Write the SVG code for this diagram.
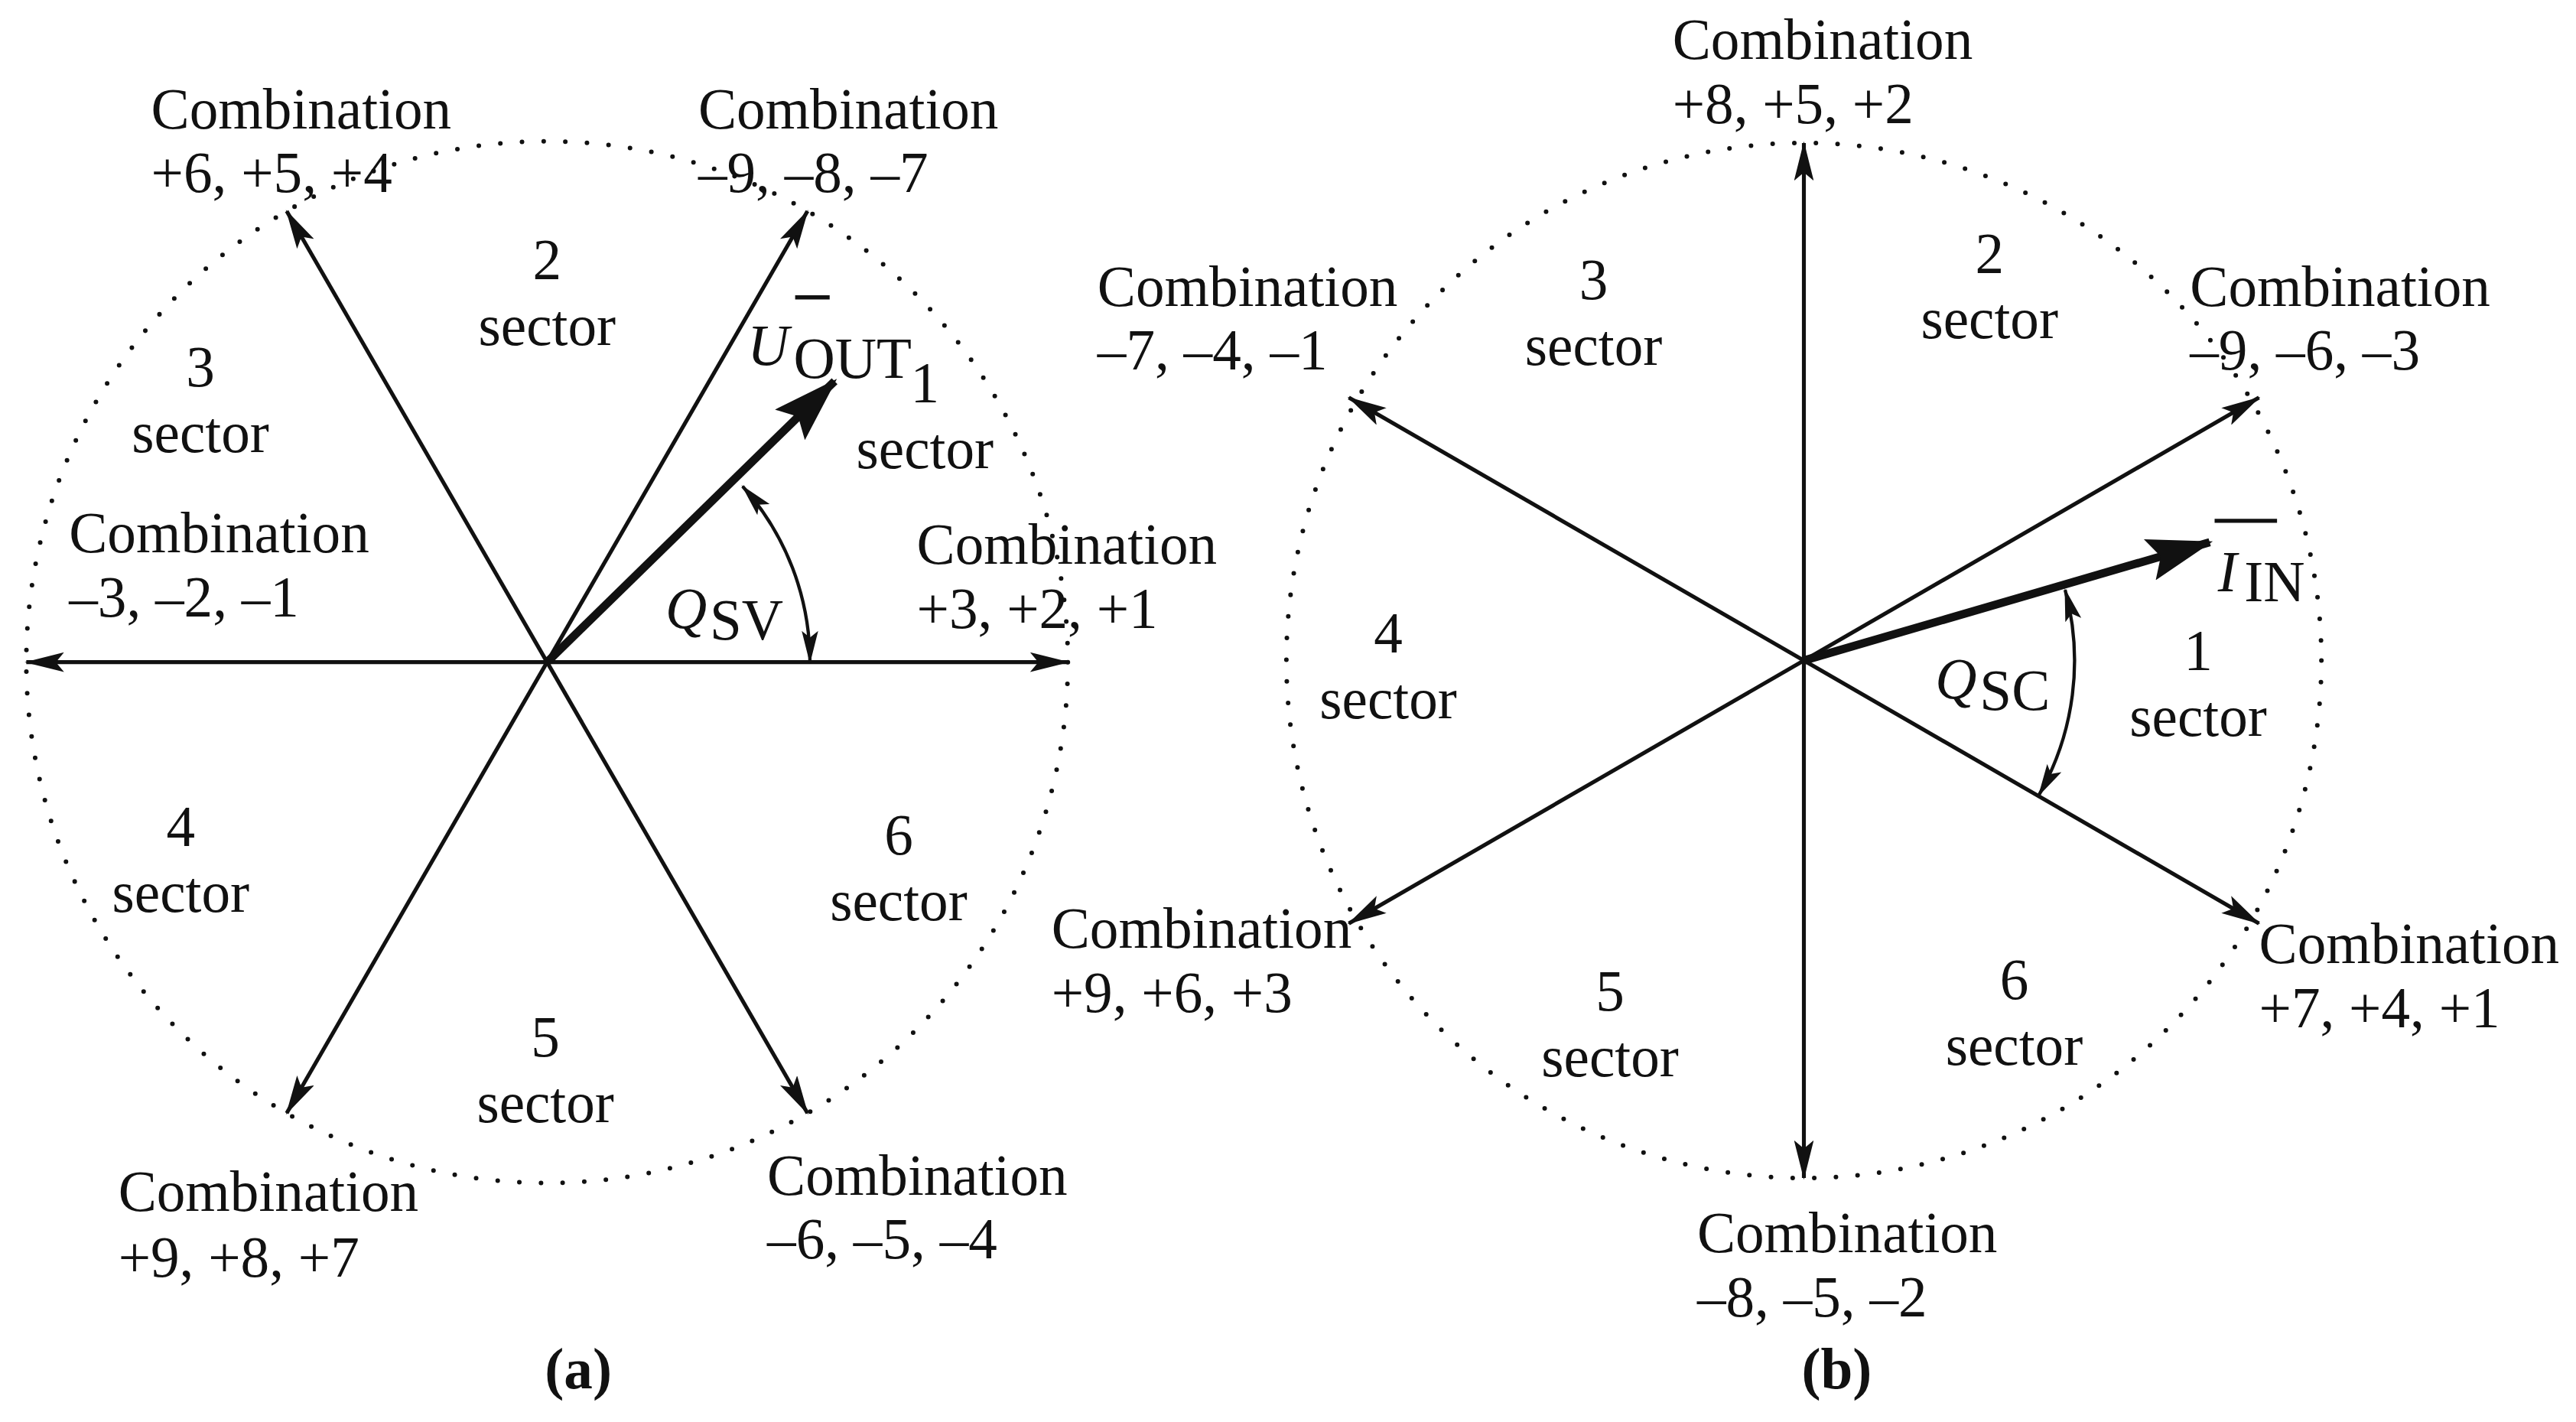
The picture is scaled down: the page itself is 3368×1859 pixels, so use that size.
<svg xmlns="http://www.w3.org/2000/svg" width="3368" height="1859" viewBox="0 0 3368 1859">
<style>
text{font-family:"Liberation Serif","Times New Roman",serif;font-size:35px;fill:#111}
.c{text-anchor:middle}
.ln{stroke:#111;stroke-width:2.4;fill:none;marker-end:url(#ah)}
.thk{stroke:#111;stroke-width:5;fill:none;marker-end:url(#ahb)}
.arc{stroke:#111;stroke-width:2;fill:none;marker-start:url(#ahs);marker-end:url(#ahs)}
.dot{stroke:#111;stroke-width:2.8;fill:none;stroke-dasharray:0 13.2;stroke-linecap:round}
</style>
<defs>
<marker id="ah" markerUnits="userSpaceOnUse" viewBox="0 0 24 12" refX="23" refY="6" markerWidth="24" markerHeight="12" orient="auto"><path d="M0,0 L24,6 L0,12 L5,6 Z" fill="#111"/></marker>
<marker id="ahb" markerUnits="userSpaceOnUse" viewBox="0 0 40 26" refX="38" refY="13" markerWidth="40" markerHeight="26" orient="auto"><path d="M0,0 L40,13 L0,26 L7,13 Z" fill="#111"/></marker>
<marker id="ahs" markerUnits="userSpaceOnUse" viewBox="0 0 20 10" refX="19" refY="5" markerWidth="20" markerHeight="10" orient="auto-start-reverse"><path d="M0,0 L20,5 L0,10 L4,5 Z" fill="#111"/></marker>
</defs>
<rect width="3368" height="1859" fill="#fff"/>
<g transform="scale(2.148)">
<g id="circles">
<circle class="dot" cx="333" cy="403" r="317"/>
<circle class="dot" cx="1098" cy="402" r="315"/>
</g>
<g id="connectors">
<line class="ln" x1="333" y1="403" x2="174.5" y2="128.5"/>
<line class="ln" x1="333" y1="403" x2="491.5" y2="128.5"/>
<line class="ln" x1="333" y1="403" x2="174.5" y2="677.5"/>
<line class="ln" x1="333" y1="403" x2="491.5" y2="677.5"/>
<line class="ln" x1="333" y1="403" x2="16" y2="403"/>
<line class="ln" x1="333" y1="403" x2="650" y2="403"/>
<line class="thk" x1="333" y1="403" x2="508" y2="232"/>
<path class="arc" d="M452,296 A160,160 0 0 1 493,403"/>
<line class="ln" x1="1098" y1="402" x2="1098" y2="87"/>
<line class="ln" x1="1098" y1="402" x2="1098" y2="717"/>
<line class="ln" x1="1098" y1="402" x2="1375" y2="242"/>
<line class="ln" x1="1098" y1="402" x2="821" y2="242"/>
<line class="ln" x1="1098" y1="402" x2="821" y2="562"/>
<line class="ln" x1="1098" y1="402" x2="1375" y2="562"/>
<line class="thk" x1="1098" y1="402" x2="1345" y2="330"/>
<path class="arc" d="M1257,359 A165,165 0 0 1 1241,484"/>
</g>
<g id="labels-a">
<text x="92" y="78">Combination</text><text x="92" y="117">+6, +5, +4</text>
<text x="425" y="78">Combination</text><text x="425" y="117">–9, –8, –7</text>
<text class="c" x="333" y="170">2</text><text class="c" x="333" y="210">sector</text>
<text class="c" x="122" y="235">3</text><text class="c" x="122" y="275">sector</text>
<line x1="484" y1="181" x2="505" y2="181" stroke="#111" stroke-width="2.5"/>
<text x="455" y="222" font-style="italic">U</text><text x="483" y="230" font-size="22">OUT</text>
<text class="c" x="563" y="245">1</text><text class="c" x="563" y="285">sector</text>
<text x="42" y="336">Combination</text><text x="42" y="375">–3, –2, –1</text>
<text x="405" y="382" font-style="italic">Q</text><text x="432" y="389" font-size="22">SV</text>
<text x="558" y="343">Combination</text><text x="558" y="382">+3, +2, +1</text>
<text class="c" x="110" y="515">4</text><text class="c" x="110" y="555">sector</text>
<text class="c" x="547" y="520">6</text><text class="c" x="547" y="560">sector</text>
<text class="c" x="332" y="643">5</text><text class="c" x="332" y="683">sector</text>
<text x="72" y="737">Combination</text><text x="72" y="777">+9, +8, +7</text>
<text x="467" y="727">Combination</text><text x="467" y="766">–6, –5, –4</text>
<text class="c" x="352" y="845" font-weight="bold">(a)</text>
</g>
<g id="labels-b">
<text x="1018" y="36">Combination</text><text x="1018" y="75">+8, +5, +2</text>
<text class="c" x="970" y="182">3</text><text class="c" x="970" y="222">sector</text>
<text class="c" x="1211" y="166">2</text><text class="c" x="1211" y="206">sector</text>
<text x="668" y="186">Combination</text><text x="668" y="225">–7, –4, –1</text>
<text x="1333" y="186">Combination</text><text x="1333" y="225">–9, –6, –3</text>
<line x1="1348" y1="317" x2="1386" y2="317" stroke="#111" stroke-width="2.5"/>
<text x="1350" y="360" font-style="italic">I</text><text x="1366" y="366" font-size="22">IN</text>
<text class="c" x="845" y="397">4</text><text class="c" x="845" y="437">sector</text>
<text x="1178" y="425" font-style="italic">Q</text><text x="1205" y="432" font-size="22">SC</text>
<text class="c" x="1338" y="408">1</text><text class="c" x="1338" y="448">sector</text>
<text x="640" y="577">Combination</text><text x="640" y="616">+9, +6, +3</text>
<text x="1375" y="586">Combination</text><text x="1375" y="625">+7, +4, +1</text>
<text class="c" x="980" y="615">5</text><text class="c" x="980" y="655">sector</text>
<text class="c" x="1226" y="608">6</text><text class="c" x="1226" y="648">sector</text>
<text x="1033" y="762">Combination</text><text x="1033" y="801">–8, –5, –2</text>
<text class="c" x="1118" y="845" font-weight="bold">(b)</text>
</g>
</g>
</svg>
